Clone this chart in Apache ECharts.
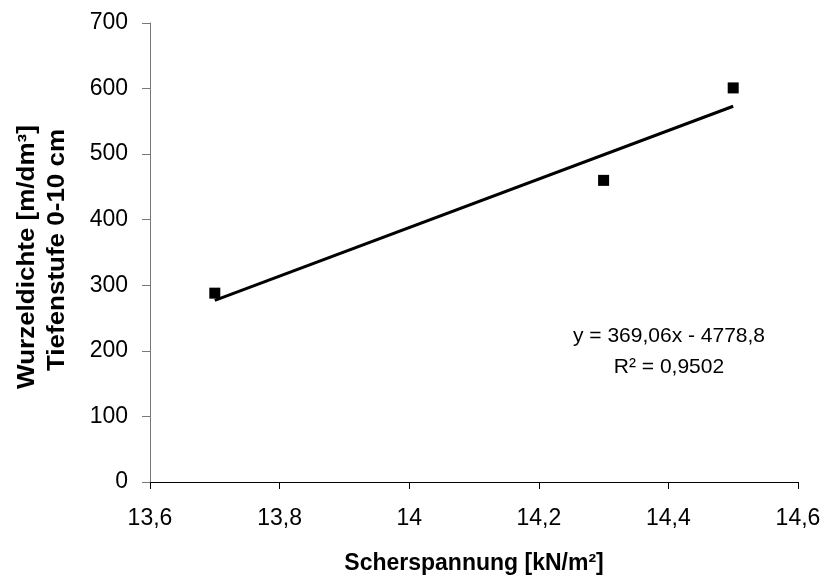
<!DOCTYPE html>
<html>
<head>
<meta charset="utf-8">
<script src="https://cdn.jsdelivr.net/npm/echarts@6/dist/echarts.min.js"></script>
<style>html,body{margin:0;padding:0;background:#fff}#c{width:824px;height:580px}</style>
</head>
<body>
<div id="c"></div>
<script>
var xValues = [13.7, 14.3, 14.5];
var yValues = [288, 460, 601];
var trendX = [13.7, 14.5];
var trendY = [277, 573];
var equationLines = ['y = 369,06x - 4778,8', 'R² = 0,9502'];
var xTitle = 'Scherspannung [kN/m²]';
var yTitleLines = ['Wurzeldichte [m/dm³]', 'Tiefenstufe 0-10 cm'];

var chart = echarts.init(document.getElementById('c'));
var font = '"Liberation Sans", Arial, sans-serif';
var fmt = function (v) { return String(+v.toFixed(1)).replace('.', ','); };
chart.setOption({
  animation: false,
  grid: {left: 150, right: 26, top: 23, bottom: 93},
  xAxis: {
    type: 'value', min: 13.6, max: 14.6, interval: 0.2,
    name: xTitle, nameLocation: 'middle', nameGap: 70,
    nameTextStyle: {fontFamily: font, fontSize: 23, fontWeight: 'bold', color: '#000'},
    axisLine: {show: true, onZero: false, lineStyle: {color: '#000', width: 1}},
    axisTick: {show: true, length: 7, lineStyle: {color: '#000'}},
    axisLabel: {fontFamily: font, fontSize: 23, color: '#000', margin: 25, formatter: fmt},
    splitLine: {show: false}
  },
  yAxis: {
    type: 'value', min: 0, max: 700, interval: 100,
    axisLine: {show: true, lineStyle: {color: '#777', width: 1}},
    axisTick: {show: true, length: 8, lineStyle: {color: '#777'}},
    axisLabel: {fontFamily: font, fontSize: 23, color: '#000', margin: 22},
    splitLine: {show: false}
  },
  graphic: [
    {type: 'text', rotation: Math.PI / 2, scaleX: 1.13,
     style: {text: yTitleLines[0], font: 'bold 23px ' + font, fill: '#000', textAlign: 'center', textVerticalAlign: 'middle'},
     position: [28, 257]},
    {type: 'text', rotation: Math.PI / 2, scaleX: 1.13,
     style: {text: yTitleLines[1], font: 'bold 23px ' + font, fill: '#000', textAlign: 'center', textVerticalAlign: 'middle'},
     position: [58, 250]},
    {type: 'text',
     style: {text: equationLines[0], font: '21px ' + font, fill: '#000', textAlign: 'center', textVerticalAlign: 'middle'},
     position: [669, 336]},
    {type: 'text',
     style: {text: equationLines[1], font: '21px ' + font, fill: '#000', textAlign: 'center', textVerticalAlign: 'middle'},
     position: [669, 367]}
  ],
  series: [
    {type: 'line', data: trendX.map(function (x, i) { return [x, trendY[i]]; }),
     showSymbol: false, symbol: 'none', lineStyle: {color: '#000', width: 3}, z: 2},
    {type: 'scatter', data: xValues.map(function (x, i) { return [x, yValues[i]]; }),
     symbol: 'rect', symbolSize: 11, itemStyle: {color: '#000', opacity: 1}, z: 3}
  ]
});
</script>
</body>
</html>
